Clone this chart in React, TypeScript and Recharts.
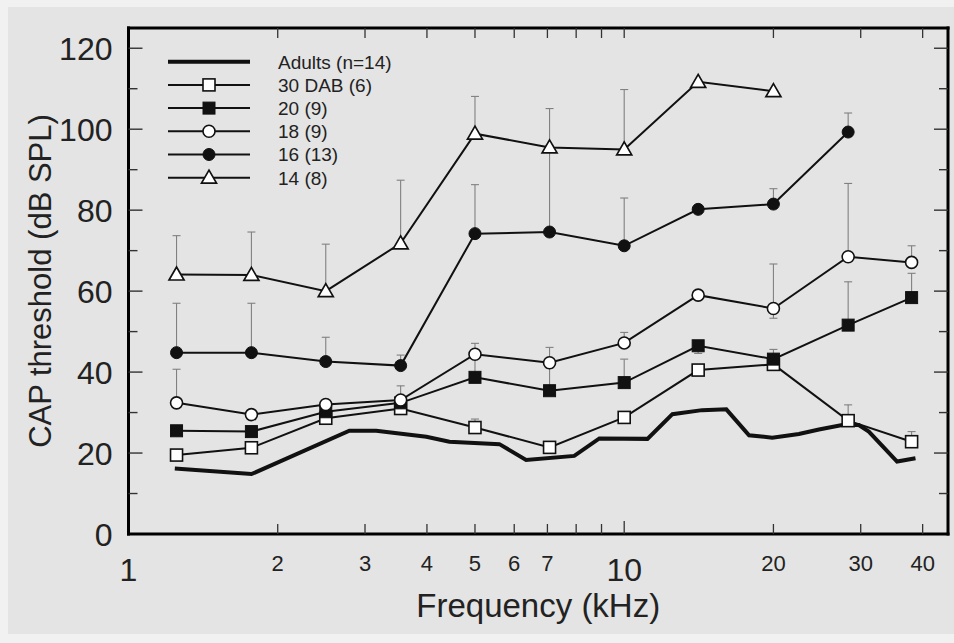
import React from "react";
import { LineChart, Line, XAxis, YAxis, ErrorBar, Legend } from "recharts";

// stimulus frequencies (kHz) used for the developmental groups
const freqs = [1.25, 1.77, 2.5, 3.54, 5, 7.07, 10, 14.1, 20, 28.3, 38];

// adult thresholds (own frequency grid)
const adultFreqs = [
  1.24, 1.77, 2.79, 3.16, 3.99, 4.44, 5.6, 6.34, 7.93, 8.91, 11.14, 12.51,
  14.36, 16.07, 17.86, 19.89, 22.51, 24.71, 27.53, 29.74, 31.15, 35.52, 38.69,
];
const adultDb = [
  16.2, 14.8, 25.5, 25.5, 24.0, 22.8, 22.2, 18.3, 19.3, 23.6, 23.5, 29.6,
  30.6, 30.8, 24.4, 23.8, 24.7, 25.8, 26.9, 26.9, 25.3, 17.9, 18.7,
];

// 30 DAB (6)
const dab30 = [19.5, 21.3, 28.6, 31.0, 26.3, 21.4, 28.8, 40.5, 41.9, 28.0, 22.8];
const dab30Hi = [null, null, null, null, 28.4, null, null, null, null, 31.9, 25.3];

// 20 (9)
const d20 = [25.5, 25.3, 30.2, 32.4, 38.7, 35.4, 37.4, 46.5, 43.2, 51.6, 58.4];
const d20Hi = [null, null, null, null, 43.5, 41.0, 43.2, null, 45.6, 62.3, 64.4];
const d20Lo = [null, null, null, null, null, null, null, 44.6, null, null, null];

// 18 (9)
const d18 = [32.4, 29.5, 32.0, 33.1, 44.4, 42.3, 47.2, 59.0, 55.7, 68.5, 67.1];
const d18Hi = [40.7, null, null, 36.6, 47.1, 46.1, 49.8, null, 66.7, 86.6, 71.2];
const d18Lo = [null, null, null, null, null, null, null, null, 53.3, null, null];

// 16 (13)
const d16 = [44.8, 44.8, 42.6, 41.6, 74.2, 74.6, 71.2, 80.2, 81.5, 99.3];
const d16Hi = [57.0, 57.0, 48.6, 44.2, 86.3, 96.0, 83.0, null, 85.3, 104.0];

// 14 (8)
const d14 = [64.1, 64.0, 60.0, 71.8, 98.9, 95.5, 95.0, 111.7, 109.4];
const d14Hi = [73.7, 74.6, 71.6, 87.4, 108.1, 105.1, 109.8, null, null];

const xTicks = [1, 2, 3, 4, 5, 6, 7, 8, 9, 10, 20, 30, 40];
const xLabels = [1, 2, 3, 4, 5, 6, 7, 10, 20, 30, 40];
const bigXLabels = [1, 10];
const yTicks = [0, 10, 20, 30, 40, 50, 60, 70, 80, 90, 100, 110, 120];

const legendNames = ["Adults (n=14)", "30 DAB (6)", "20 (9)", "18 (9)", "16 (13)", "14 (8)"];

const FONT = "'Liberation Sans', Arial, Helvetica, sans-serif";
const INK = "#111";
const BAR = "#808080";

type Pt = { x: number; y: number; err: number[] | null };

function build(xs: number[], ys: number[], hi?: (number | null)[], lo?: (number | null)[]): Pt[] {
  return ys.map((v, i) => {
    const h = hi ? hi[i] : null;
    const l = lo ? lo[i] : null;
    const err = h != null || l != null ? [l != null ? v - l : 0, h != null ? h - v : 0] : null;
    return { x: xs[i], y: v, err };
  });
}

const adults = build(adultFreqs, adultDb);
const s30 = build(freqs, dab30, dab30Hi);
const s20 = build(freqs, d20, d20Hi, d20Lo);
const s18 = build(freqs, d18, d18Hi, d18Lo);
const s16 = build(freqs, d16, d16Hi);
const s14 = build(freqs, d14, d14Hi);

type Shape = "osq" | "fsq" | "ocir" | "fcir" | "tri";

function marker(shape: Shape, cx: number, cy: number, key?: string | number) {
  switch (shape) {
    case "osq":
      return <rect key={key} x={cx - 6} y={cy - 6} width={12} height={12} fill="#fff" stroke={INK} strokeWidth={1.6} />;
    case "fsq":
      return <rect key={key} x={cx - 6} y={cy - 6} width={12} height={12} fill={INK} stroke={INK} strokeWidth={1} />;
    case "ocir":
      return <circle key={key} cx={cx} cy={cy} r={6} fill="#fff" stroke={INK} strokeWidth={1.6} />;
    case "fcir":
      return <circle key={key} cx={cx} cy={cy} r={6} fill={INK} stroke={INK} strokeWidth={1} />;
    default:
      return (
        <polygon
          key={key}
          points={`${cx},${cy - 7.5} ${cx + 7.5},${cy + 5.5} ${cx - 7.5},${cy + 5.5}`}
          fill="#fff"
          stroke={INK}
          strokeWidth={1.7}
        />
      );
  }
}

const dotFor = (shape: Shape) => (p: any) => marker(shape, p.cx, p.cy, `${shape}-${p.index}`);

const legendShapes: (Shape | null)[] = [null, "osq", "fsq", "ocir", "fcir", "tri"];

function LegendBox() {
  return (
    <svg width={260} height={150} style={{ display: "block" }}>
      {legendNames.map((name, i) => {
        const y = 16.7 + 23.2 * i;
        const shape = legendShapes[i];
        return (
          <g key={name}>
            <line x1={8} x2={90} y1={y} y2={y} stroke={INK} strokeWidth={shape ? 2 : 4} />
            {shape && marker(shape, 49, y)}
            <text x={118} y={y} dy="0.36em" fontSize={19} fill="#222" fontFamily={FONT}>
              {name}
            </text>
          </g>
        );
      })}
    </svg>
  );
}

function BottomTick(props: any) {
  const { x, y, payload } = props;
  const v = payload.value;
  const big = bigXLabels.includes(v);
  return (
    <g>
      {v !== 1 && <line x1={x} x2={x} y1={y} y2={y - (v === 10 ? 13 : 10)} stroke="#333" strokeWidth={1.3} />}
      {xLabels.includes(v) && (
        <text x={x} y={y + (big ? 47 : 36.5)} textAnchor="middle" fontSize={big ? 32 : 22} fill="#222" fontFamily={FONT}>
          {v}
        </text>
      )}
    </g>
  );
}

function TopTick(props: any) {
  const { x, y, payload } = props;
  const v = payload.value;
  if (v === 1) return <g />;
  return <line x1={x} x2={x} y1={y} y2={y + 10} stroke="#333" strokeWidth={1.3} />;
}

function LeftTick(props: any) {
  const { x, y, payload } = props;
  const v = payload.value;
  const major = v % 20 === 0;
  return (
    <g>
      {v !== 0 && <line x1={x} x2={x + (major ? 14 : 9)} y1={y} y2={y} stroke="#333" strokeWidth={1.4} />}
      {major && (
        <text x={x - 16} y={y} dy="0.36em" textAnchor="end" fontSize={32} fill="#222" fontFamily={FONT}>
          {v}
        </text>
      )}
    </g>
  );
}

function RightTick(props: any) {
  const { x, y, payload } = props;
  const v = payload.value;
  if (v === 0) return <g />;
  const major = v % 20 === 0;
  return <line x1={x} x2={x - (major ? 14 : 9)} y1={y} y2={y} stroke="#333" strokeWidth={1.4} />;
}

const axisLine = { stroke: "#000", strokeWidth: 3, strokeLinecap: "square" as const };

export default function App() {
  return (
    <div style={{ position: "fixed", left: 0, top: 0, width: 954, height: 643, background: "#f1f1f1", fontFamily: FONT }}>
      <div style={{ position: "absolute", left: 8, top: 7, width: 946, height: 627, background: "#e4e4e4" }} />
      <LineChart width={954} height={643} margin={{ top: 27, right: 5, bottom: 0, left: 0 }}>
        <XAxis
          dataKey="x"
          type="number"
          scale="log"
          domain={[1, 45]}
          allowDataOverflow
          ticks={xTicks}
          interval={0}
          height={109}
          tickSize={0}
          tickMargin={0}
          tickLine={false}
          axisLine={axisLine}
          tick={<BottomTick />}
          label={{ value: "Frequency (kHz)", position: "insideBottom", offset: 26, fontSize: 33, fill: "#222", fontFamily: FONT }}
        />
        <XAxis
          xAxisId="top"
          dataKey="x"
          orientation="top"
          type="number"
          scale="log"
          domain={[1, 45]}
          allowDataOverflow
          ticks={xTicks}
          interval={0}
          height={1}
          tickSize={0}
          tickMargin={0}
          tickLine={false}
          axisLine={axisLine}
          tick={<TopTick />}
        />
        <YAxis
          type="number"
          domain={[0, 125]}
          allowDataOverflow
          ticks={yTicks}
          interval={0}
          width={128.5}
          tickSize={0}
          tickMargin={0}
          tickLine={false}
          axisLine={axisLine}
          tick={<LeftTick />}
          label={{
            value: "CAP threshold (dB SPL)",
            angle: -90,
            position: "insideLeft",
            offset: 40,
            style: { textAnchor: "middle", fontSize: 31, fill: "#222", fontFamily: FONT },
          }}
        />
        <YAxis
          yAxisId="right"
          orientation="right"
          type="number"
          domain={[0, 125]}
          allowDataOverflow
          ticks={yTicks}
          interval={0}
          width={1}
          tickSize={0}
          tickMargin={0}
          tickLine={false}
          axisLine={axisLine}
          tick={<RightTick />}
        />
        <Legend
          layout="vertical"
          align="center"
          verticalAlign="middle"
          content={() => <LegendBox />}
          wrapperStyle={{ left: 160, top: 45, width: 260, height: 150 }}
        />
        {/* invisible series so the mirrored top/right axes get drawn */}
        <Line
          xAxisId="top"
          yAxisId="right"
          data={adults}
          dataKey="y"
          stroke="none"
          dot={false}
          activeDot={false}
          legendType="none"
          isAnimationActive={false}
        />
        <Line data={adults} dataKey="y" name={legendNames[0]} stroke={INK} strokeWidth={4} dot={false} activeDot={false} isAnimationActive={false} />
        <Line data={s30} dataKey="y" name={legendNames[1]} stroke={INK} strokeWidth={2} dot={dotFor("osq")} activeDot={false} isAnimationActive={false}>
          <ErrorBar dataKey="err" direction="y" width={4} stroke={BAR} strokeWidth={1.1} isAnimationActive={false} />
        </Line>
        <Line data={s20} dataKey="y" name={legendNames[2]} stroke={INK} strokeWidth={2} dot={dotFor("fsq")} activeDot={false} isAnimationActive={false}>
          <ErrorBar dataKey="err" direction="y" width={4} stroke={BAR} strokeWidth={1.1} isAnimationActive={false} />
        </Line>
        <Line data={s18} dataKey="y" name={legendNames[3]} stroke={INK} strokeWidth={2} dot={dotFor("ocir")} activeDot={false} isAnimationActive={false}>
          <ErrorBar dataKey="err" direction="y" width={4} stroke={BAR} strokeWidth={1.1} isAnimationActive={false} />
        </Line>
        <Line data={s16} dataKey="y" name={legendNames[4]} stroke={INK} strokeWidth={2} dot={dotFor("fcir")} activeDot={false} isAnimationActive={false}>
          <ErrorBar dataKey="err" direction="y" width={4} stroke={BAR} strokeWidth={1.1} isAnimationActive={false} />
        </Line>
        <Line data={s14} dataKey="y" name={legendNames[5]} stroke={INK} strokeWidth={2} dot={dotFor("tri")} activeDot={false} isAnimationActive={false}>
          <ErrorBar dataKey="err" direction="y" width={4} stroke={BAR} strokeWidth={1.1} isAnimationActive={false} />
        </Line>
      </LineChart>
    </div>
  );
}
